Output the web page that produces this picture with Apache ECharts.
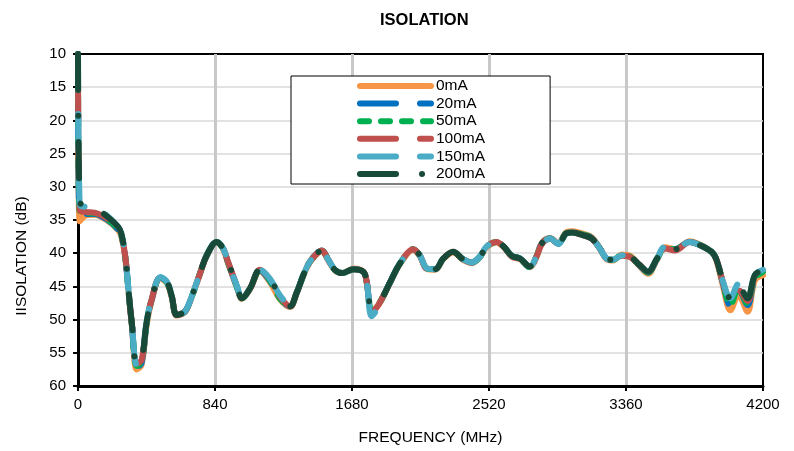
<!DOCTYPE html>
<html>
<head>
<meta charset="utf-8">
<script src="https://cdn.jsdelivr.net/npm/echarts@6/dist/echarts.min.js"></script>
<style>
  html, body { margin: 0; padding: 0; background: #fff; }
  #main { width: 794px; height: 451px; }
</style>
</head>
<body>
<div id="main"></div>
<script>
// frequency points (MHz)
var freq = [
  0, 10, 50, 100, 175, 245, 265, 290, 315, 330,
  360, 390, 420, 450, 505, 545, 575, 605, 655, 690,
  740, 790, 850, 890, 920, 975, 1005, 1055, 1115, 1175,
  1240, 1300, 1340, 1390, 1430, 1495, 1535, 1575, 1620, 1690,
  1750, 1770, 1800, 1830, 1860, 1915, 1975, 2055, 2095, 2140,
  2190, 2240, 2300, 2360, 2415, 2465, 2505, 2565, 2610, 2660,
  2710, 2770, 2810, 2845, 2895, 2945, 2995, 3030, 3100, 3150,
  3200, 3240, 3280, 3335, 3385, 3445, 3495, 3550, 3600, 3660,
  3750, 3805, 3885, 3915, 3955, 4000, 4050, 4105, 4150, 4200
];

// isolation (dB) per bias current
var iso0mA = [
  10, 35.2, 34.3, 34.2, 35.0, 36.5, 37.4, 40.7, 47.2, 50.8,
  57.5, 56.8, 51.0, 47.3, 43.8, 44.5, 46.7, 49.4, 48.9, 47.1,
  43.7, 40.4, 38.4, 39.4, 41.5, 45.2, 46.9, 45.4, 42.7, 44.3,
  47.0, 48.1, 46.1, 42.9, 41.1, 39.7, 41.1, 42.6, 43.0, 42.3,
  42.8, 44.4, 48.8, 48.2, 47.1, 44.4, 41.6, 39.5, 40.4, 42.4,
  42.5, 40.9, 39.9, 41.0, 41.5, 40.6, 39.1, 38.4, 39.1, 40.5,
  40.9, 42.1, 40.6, 38.4, 37.7, 38.5, 36.8, 36.7, 37.1, 37.6,
  39.3, 40.9, 41.1, 40.2, 40.4, 42.0, 43.1, 41.0, 39.1, 39.4,
  38.2, 38.6, 39.8, 41.1, 45.0, 48.6, 46.3, 48.8, 44.1, 43.3
];
var iso20mA = [
  10, 34.2, 34.1, 34.1, 34.9, 36.4, 37.3, 40.6, 47.1, 50.7,
  57.2, 56.5, 50.8, 47.2, 43.7, 44.4, 46.6, 49.3, 48.8, 47.0,
  43.6, 40.3, 38.3, 39.3, 41.4, 45.1, 46.8, 45.3, 42.6, 44.1,
  46.8, 48.0, 46.0, 42.8, 41.0, 39.6, 41.0, 42.5, 43.0, 42.4,
  42.8, 44.3, 48.6, 48.0, 47.0, 44.3, 41.5, 39.4, 40.3, 42.3,
  42.4, 40.8, 39.8, 40.9, 41.4, 40.5, 39.0, 38.3, 39.0, 40.4,
  40.8, 42.1, 40.5, 38.5, 37.8, 38.6, 37.0, 36.9, 37.2, 37.7,
  39.3, 40.8, 41.0, 40.3, 40.5, 41.9, 42.9, 40.9, 39.1, 39.4,
  38.3, 38.7, 39.8, 41.0, 44.6, 47.9, 45.5, 47.8, 43.8, 42.9
];
var iso50mA = [
  10, 33.9, 34.0, 34.0, 34.8, 36.3, 37.2, 40.6, 47.1, 50.6,
  57.0, 56.3, 50.7, 47.1, 43.7, 44.4, 46.6, 49.3, 48.8, 47.0,
  43.6, 40.3, 38.3, 39.3, 41.4, 45.1, 46.8, 45.3, 42.6, 44.0,
  46.9, 48.0, 46.0, 42.8, 41.0, 39.6, 41.0, 42.5, 43.0, 42.4,
  42.8, 44.3, 48.6, 48.0, 47.0, 44.3, 41.5, 39.4, 40.3, 42.3,
  42.4, 40.8, 39.8, 40.9, 41.4, 40.5, 39.0, 38.3, 39.0, 40.4,
  40.8, 42.1, 40.5, 38.5, 37.8, 38.6, 37.0, 36.9, 37.2, 37.7,
  39.3, 40.8, 41.0, 40.3, 40.5, 41.9, 42.9, 40.9, 39.1, 39.4,
  38.3, 38.7, 39.8, 41.0, 44.5, 47.8, 45.4, 47.6, 43.8, 42.8
];
var iso100mA = [
  10, 33.5, 33.8, 33.9, 34.7, 36.3, 37.2, 40.5, 47.0, 50.6,
  56.6, 56.1, 50.6, 47.1, 43.6, 44.3, 46.5, 49.3, 48.8, 47.0,
  43.6, 40.3, 38.3, 39.3, 41.3, 45.0, 46.8, 45.3, 42.5, 43.9,
  46.6, 48.0, 46.0, 42.8, 41.0, 39.6, 41.0, 42.5, 43.0, 42.4,
  42.8, 44.3, 48.8, 48.2, 47.0, 44.3, 41.5, 39.4, 40.3, 42.4,
  42.5, 40.8, 39.8, 40.9, 41.4, 40.5, 39.0, 38.3, 39.0, 40.5,
  40.9, 42.3, 40.6, 38.6, 37.8, 38.6, 37.0, 36.9, 37.3, 37.8,
  39.3, 40.8, 41.0, 40.4, 40.6, 41.8, 42.8, 41.1, 39.3, 39.6,
  38.3, 38.7, 39.8, 41.0, 44.4, 47.0, 45.6, 47.2, 43.6, 42.7
];
var iso150mA = [
  10, 32.6, 33.0, 33.0, 34.3, 36.0, 37.0, 40.5, 47.0, 50.5,
  56.8, 56.0, 50.5, 47.0, 43.6, 44.3, 46.5, 49.3, 48.8, 47.0,
  43.6, 40.3, 38.3, 39.3, 41.3, 45.0, 46.8, 45.3, 42.5, 43.8,
  46.4, 47.9, 46.0, 42.8, 41.0, 39.6, 41.0, 42.5, 43.0, 42.4,
  42.8, 44.3, 49.5, 48.6, 47.0, 44.3, 41.5, 39.4, 40.3, 42.3,
  42.4, 40.8, 39.8, 40.9, 41.4, 40.5, 39.0, 38.3, 39.0, 40.4,
  40.8, 42.0, 40.5, 38.5, 37.8, 38.6, 37.0, 36.9, 37.3, 37.8,
  39.3, 40.8, 41.0, 40.3, 40.5, 41.8, 42.8, 40.8, 39.0, 39.4,
  38.3, 38.7, 39.8, 41.0, 44.3, 46.8, 44.6, 46.8, 43.3, 42.5
];
var iso200mA = [
  10, 32.3, 32.8, 33.1, 34.4, 36.0, 37.0, 40.5, 47.0, 50.5,
  56.8, 56.0, 50.5, 47.0, 43.6, 44.3, 46.5, 49.3, 48.8, 47.0,
  43.6, 40.3, 38.3, 39.3, 41.3, 45.0, 46.8, 45.3, 42.5, 43.8,
  46.5, 48.0, 46.0, 42.8, 41.0, 39.6, 41.0, 42.5, 43.0, 42.4,
  42.8, 44.3, 48.2, 47.9, 47.0, 44.3, 41.5, 39.4, 40.3, 42.3,
  42.4, 40.8, 39.8, 40.9, 41.4, 40.5, 39.0, 38.3, 39.0, 40.4,
  40.8, 42.0, 40.5, 38.5, 37.8, 38.6, 37.0, 36.9, 37.3, 37.8,
  39.3, 40.8, 41.0, 40.3, 40.5, 41.8, 42.8, 40.8, 39.0, 39.4,
  38.3, 38.7, 39.8, 41.0, 44.3, 46.8, 44.9, 46.8, 43.3, 42.5
];

var names = ["0mA", "20mA", "50mA", "100mA", "150mA", "200mA"];
var values = [iso0mA, iso20mA, iso50mA, iso100mA, iso150mA, iso200mA];
var colors = ["#F79646", "#0070C0", "#00B050", "#C0504D", "#4BACC6", "#174A38"];
var dashes = ["solid", [36, 24], [9, 12], [36, 24], [36, 24], [36, 26, 0.01, 26]];
var offsets = [0, 12, 0, 30, 0, 0];

var font = "'Liberation Sans', Arial, sans-serif";

var chart = echarts.init(document.getElementById("main"));

var series = [];
for (var i = 0; i < names.length; i++) {
  var pts = [];
  for (var j = 0; j < freq.length; j++) {
    pts.push([freq[j], values[i][j]]);
  }
  series.push({
    name: names[i],
    type: "line",
    data: pts,
    smooth: 0.35,
    symbol: "none",
    color: colors[i],
    lineStyle: {
      width: 6,
      color: colors[i],
      type: dashes[i],
      dashOffset: offsets[i],
      cap: "round",
      join: "round",
    },
    z: 2 + i,
  });
}

var option = {
  animation: false,
  backgroundColor: "#fff",
  title: {
    text: "ISOLATION",
    left: 375,
    top: 7,
    textStyle: {
      fontFamily: font,
      fontSize: 16.5,
      fontWeight: "bold",
      color: "#000",
    },
  },
  legend: {
    data: names,
    orient: "vertical",
    left: 291,
    top: 76,
    itemWidth: 71,
    itemHeight: 12,
    itemGap: 1.6,
    padding: [2, 65, 2, 66],
    borderColor: "#000",
    borderWidth: 1,
    backgroundColor: "#fff",
    itemStyle: { opacity: 0 },
    lineStyle: { width: 6, dashOffset: 0 },
    textStyle: {
      fontFamily: font,
      fontSize: 15.5,
      lineHeight: 14,
      color: "#000",
    },
  },
  grid: {
    left: 78,
    right: 31,
    top: 54,
    bottom: 65,
    show: true,
    borderColor: "#000",
    borderWidth: 2,
  },
  xAxis: {
    type: "value",
    min: 0,
    max: 4200,
    interval: 840,
    name: "FREQUENCY (MHz)",
    nameLocation: "middle",
    nameGap: 44,
    nameTextStyle: {
      fontFamily: font,
      fontSize: 15.5,
      color: "#000",
      padding: [0, 0, 0, 20],
    },
    axisLine: { lineStyle: { color: "#000", width: 3 } },
    axisTick: { length: 5, lineStyle: { color: "#000", width: 2 } },
    axisLabel: {
      margin: 11,
      fontFamily: font,
      fontSize: 15,
      color: "#000",
      formatter: function (v) {
        return String(v);
      },
    },
    splitLine: {
      showMinLine: false,
      showMaxLine: false,
      lineStyle: { color: "#c8c8c8", width: 3 },
    },
  },
  yAxis: {
    type: "value",
    inverse: true,
    min: 10,
    max: 60,
    interval: 5,
    name: "IISOLATION (dB)",
    nameLocation: "middle",
    nameGap: 48,
    nameTextStyle: {
      fontFamily: font,
      fontSize: 15.5,
      color: "#000",
      padding: [0, 72, 0, 0],
    },
    axisLine: { lineStyle: { color: "#000", width: 3 } },
    axisTick: { length: 5, lineStyle: { color: "#000", width: 2 } },
    axisLabel: {
      margin: 12,
      fontFamily: font,
      fontSize: 15,
      color: "#000",
    },
    splitLine: {
      showMinLine: false,
      showMaxLine: false,
      lineStyle: { color: "#d9d9d9", width: 1.5 },
    },
  },
  series: series,
};

chart.setOption(option);
</script>
</body>
</html>
